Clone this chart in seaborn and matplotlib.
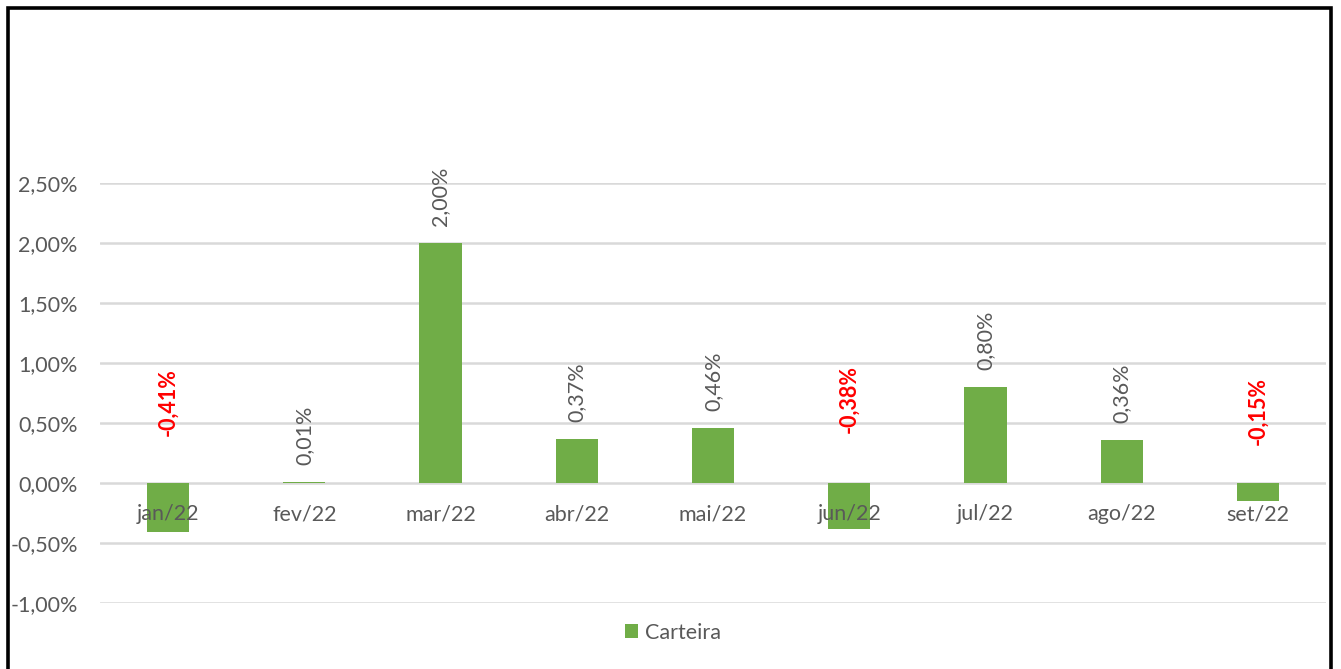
import matplotlib
matplotlib.use("Agg")
import matplotlib.pyplot as plt
from matplotlib.patches import Rectangle
from matplotlib.ticker import FuncFormatter
import seaborn as sns
import pandas as pd

# Monthly portfolio returns (%)
months = ["jan/22", "fev/22", "mar/22", "abr/22", "mai/22",
          "jun/22", "jul/22", "ago/22", "set/22"]
carteira = [-0.41, 0.01, 2.00, 0.37, 0.46, -0.38, 0.80, 0.36, -0.15]
y_ticks = [-1.0, -0.5, 0.0, 0.5, 1.0, 1.5, 2.0, 2.5]

df = pd.DataFrame({"mes": months, "Carteira": carteira})

sns.set_theme(style="white")
plt.rcParams["font.family"] = ["Lato", "DejaVu Sans"]

GREEN = "#70ad47"
GRAY_TXT = "#595959"
GRID = "#d9d9d9"
FS = 15.5

fig = plt.figure(figsize=(13.41, 6.69), dpi=100)
W, H = 1341, 669
ax = fig.add_axes([100 / W, 1 - 603 / H, (1326 - 100) / W, (603 - 183) / H])

sns.barplot(data=df, x="mes", y="Carteira", color=GREEN, width=0.31,
            saturation=1, linewidth=0, ax=ax, zorder=3, label="Carteira")

ax.set_ylim(-1.0, 2.5)
ax.set_xlim(-0.5, len(months) - 0.5)
ax.set_yticks(y_ticks)
ax.yaxis.set_major_formatter(FuncFormatter(lambda v, _: f"{v:.2f}%".replace(".", ",")))
ax.grid(axis="y", color=GRID, linewidth=1.8, zorder=0)
ax.set_axisbelow(True)
for s in ax.spines.values():
    s.set_visible(False)
ax.set_xlabel("")
ax.set_ylabel("")
ax.tick_params(axis="y", length=0, labelsize=FS, labelcolor=GRAY_TXT, pad=16)
ax.tick_params(axis="x", length=0, labelbottom=False)

# Category labels hang just below the zero line, drawn over the bars
for i, m in enumerate(months):
    ax.annotate(m, (i, 0), xytext=(0, -22.5), textcoords="offset points",
                ha="center", va="center", fontsize=FS, color=GRAY_TXT, zorder=5)

# Value labels: grey above positive bars, bold red above the axis for negatives
neg_label_base = {0: 0.39, 5: 0.42, 8: 0.32}
for i, v in enumerate(carteira):
    txt = f"{v:.2f}%".replace(".", ",")
    if v >= 0:
        ax.annotate(txt, (i, v), xytext=(0, 12), textcoords="offset points",
                    rotation=90, ha="center", va="bottom", fontsize=FS,
                    color=GRAY_TXT, zorder=6)
    else:
        ax.text(i, neg_label_base[i], txt, rotation=90, ha="center",
                va="bottom", fontsize=FS, color="#ff0000",
                fontweight="bold", zorder=6)

# Legend below the plot
ax.legend(loc="center", bbox_to_anchor=((673 - 100) / (1326 - 100), (633 - 603) / -(603 - 183)),
          frameon=False, fontsize=FS, labelcolor=GRAY_TXT,
          handlelength=0.62, handleheight=0.62, handletextpad=0.35)

# Outer chart frame
fig.patches.append(Rectangle((7.5 / W, -0.05), (1330.5 - 7.5) / W, 1 + 0.05 - 8 / H,
                             transform=fig.transFigure, fill=False,
                             edgecolor="black", linewidth=2.6, zorder=10))

fig.savefig("out.png", dpi=100, facecolor="white")
